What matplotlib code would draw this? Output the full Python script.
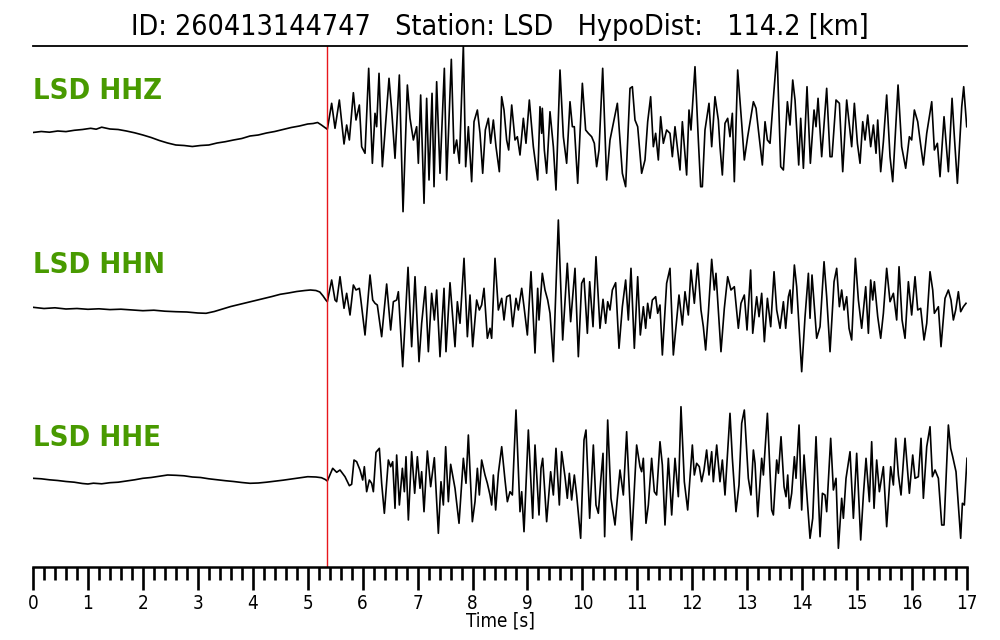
import matplotlib
matplotlib.use("Agg")
import matplotlib.pyplot as plt
import numpy as np
from matplotlib.ticker import MultipleLocator

# ---- data: (time [s], amplitude [arb.]) ----
HHZ = [
(0.00,-2.5),(0.15,-1.5),(0.30,-2.2),(0.45,-1.0),(0.60,-1.6),(0.75,-0.3),(0.90,0.5),(1.05,1.7),
(1.15,0.8),(1.25,2.8),(1.40,1.0),(1.55,0.5),(1.70,-1.0),(1.85,-2.8),(2.00,-5.0),(2.15,-7.5),
(2.30,-10.5),(2.45,-13.0),(2.60,-15.0),(2.75,-15.5),(2.90,-16.5),(3.05,-15.5),(3.20,-15.0),
(3.35,-13.0),(3.50,-11.7),(3.65,-10.0),(3.80,-8.5),(3.95,-6.0),(4.10,-5.0),(4.25,-3.0),(4.40,-1.5),
(4.55,0.5),(4.70,2.5),(4.85,4.0),(5.00,6.0),(5.10,6.5),(5.18,7.5),(5.25,5.0),(5.30,3.0),
(5.357,0.7),(5.436,26.7),(5.497,1.7),(5.576,30.0),(5.661,-14.0),(5.709,5.0),(5.758,-10.0),
(5.831,37.3),(5.879,10.0),(5.940,25.0),(5.982,-16.7),(6.043,-23.3),(6.110,61.7),(6.177,-33.3),
(6.225,16.7),(6.255,3.3),(6.298,56.7),(6.359,-36.7),(6.419,6.7),(6.480,51.7),(6.528,20.0),
(6.589,-28.3),(6.668,55.0),(6.735,-81.7),(6.814,45.0),(6.862,11.7),(6.923,-10.0),(6.983,3.3),
(7.014,-33.3),(7.056,35.0),(7.117,-73.3),(7.165,31.7),(7.208,-50.0),(7.263,36.7),(7.299,-56.7),
(7.347,48.3),(7.408,-43.3),(7.487,61.7),(7.529,-50.0),(7.614,70.7),(7.663,-23.3),(7.711,-10.0),
(7.760,-33.3),(7.833,85.0),(7.875,-36.7),(7.924,3.3),(7.984,-51.7),(8.027,8.3),(8.088,20.0),
(8.136,-3.3),(8.185,-43.3),(8.233,0.0),(8.288,11.7),(8.330,-13.3),(8.379,10.0),(8.427,-16.7),
(8.488,-41.7),(8.530,33.3),(8.573,20.0),(8.621,-10.0),(8.658,-20.0),(8.713,25.0),(8.773,-10.0),
(8.816,-6.7),(8.864,-25.0),(8.925,11.7),(8.973,-13.3),(9.034,30.0),(9.107,-16.7),(9.186,-50.0),
(9.228,23.3),(9.258,-3.3),(9.270,21.7),(9.307,-20.0),(9.349,-43.3),(9.410,18.3),(9.471,-16.7),
(9.519,-60.0),(9.592,60.0),(9.653,-6.7),(9.713,-33.3),(9.774,28.3),(9.817,3.3),(9.853,3.3),
(9.914,-53.3),(9.999,46.7),(10.059,0.0),(10.108,-3.3),(10.168,-6.7),(10.217,-13.3),(10.259,-36.7),
(10.302,-20.0),(10.369,61.7),(10.441,-50.0),(10.502,-10.0),(10.563,6.7),(10.636,26.7),(10.684,-10.0),
(10.727,-43.3),(10.787,-56.7),(10.866,41.7),(10.909,43.3),(10.957,10.0),(11.006,3.3),(11.078,-43.3),
(11.139,-30.0),(11.188,8.3),(11.242,33.3),(11.291,-16.7),(11.333,-3.3),(11.382,-30.0),(11.424,13.3),
(11.473,-13.3),(11.533,0.0),(11.594,-3.3),(11.637,-26.7),(11.685,3.3),(11.734,-20.0),(11.776,-40.0),
(11.819,8.3),(11.897,-45.0),(11.940,20.0),(11.976,0.0),(12.049,63.3),(12.110,-10.0),(12.152,-56.7),
(12.183,-56.7),(12.231,0.0),(12.304,26.7),(12.353,-16.7),(12.413,33.3),(12.474,10.0),(12.504,-16.7),
(12.547,-45.0),(12.595,6.7),(12.644,11.7),(12.686,-6.7),(12.729,16.7),(12.765,-51.7),(12.826,60.0),
(12.899,6.7),(12.947,-30.0),(13.008,-6.7),(13.112,28.3),(13.160,21.7),(13.203,0.0),(13.275,-35.0),
(13.324,8.3),(13.367,-10.0),(13.415,-13.3),(13.464,23.3),(13.542,78.3),(13.609,-36.7),(13.658,-40.0),
(13.731,28.3),(13.779,5.0),(13.828,50.0),(13.870,30.0),(13.937,-35.0),(13.973,11.7),(14.022,-38.3),
(14.088,43.3),(14.149,-33.3),(14.216,20.0),(14.252,3.3),(14.289,31.7),(14.355,-26.7),(14.446,41.7),
(14.507,-26.7),(14.543,-26.7),(14.616,30.0),(14.677,26.7),(14.738,-41.7),(14.810,30.0),(14.859,5.0),
(14.901,-16.7),(14.950,26.7),(15.005,-13.3),(15.053,-33.3),(15.102,8.3),(15.144,-10.0),(15.193,15.0),
(15.247,-16.7),(15.296,5.0),(15.344,-23.3),(15.375,10.0),(15.429,-41.7),(15.478,-11.7),(15.538,35.0),
(15.599,-26.7),(15.648,-51.7),(15.745,45.0),(15.811,-16.7),(15.884,-38.3),(15.951,-6.7),(15.993,-10.0),
(16.042,20.0),(16.103,8.3),(16.145,-10.0),(16.206,-35.0),(16.267,-3.3),(16.358,28.3),(16.406,-20.0),
(16.461,-13.3),(16.509,-46.7),(16.582,13.3),(16.661,-41.7),(16.728,31.7),(16.770,-6.7),(16.825,-53.3),
(16.904,23.3),(16.940,43.3),(16.995,3.3),
]

HHN = [
(0.00,0.7),(0.20,-0.5),(0.40,0.2),(0.60,-1.0),(0.80,-0.5),(1.00,-1.3),(1.20,-0.8),(1.40,-1.6),
(1.60,-1.2),(1.80,-2.0),(2.00,-2.7),(2.20,-2.2),(2.40,-3.2),(2.60,-3.7),(2.80,-4.0),(3.00,-5.0),
(3.15,-5.3),(3.30,-3.5),(3.45,-1.0),(3.60,1.5),(3.75,3.5),(3.90,5.5),(4.05,7.5),(4.20,9.5),
(4.35,11.5),(4.50,13.7),(4.65,15.0),(4.80,16.5),(4.95,17.5),(5.05,18.0),(5.15,17.5),(5.22,16.0),
(5.28,12.0),(5.33,8.0),
(5.357,6.3),(5.436,28.0),(5.497,8.0),(5.527,6.3),(5.588,31.3),(5.661,-0.3),(5.709,14.7),(5.770,-7.0),
(5.831,23.0),(5.879,18.0),(5.940,19.7),(5.964,9.7),(6.043,-27.0),(6.134,33.0),(6.183,8.0),(6.225,4.7),
(6.267,3.0),(6.346,-28.7),(6.437,24.0),(6.510,-22.0),(6.559,6.3),(6.619,8.0),(6.650,16.3),(6.729,-58.7),
(6.826,40.7),(6.892,-38.7),(6.953,31.3),(7.026,-53.7),(7.074,-15.3),(7.141,21.3),(7.196,-43.7),
(7.256,14.7),(7.305,-12.0),(7.347,18.0),(7.408,-48.7),(7.481,19.7),(7.517,-43.7),(7.590,25.3),
(7.681,-38.7),(7.724,6.3),(7.772,-15.3),(7.845,49.7),(7.906,-28.7),(7.954,13.0),(8.003,-38.7),
(8.075,8.0),(8.124,-2.0),(8.166,3.0),(8.209,19.7),(8.270,-30.3),(8.318,-20.3),(8.348,-30.3),
(8.409,49.7),(8.470,-2.0),(8.531,9.7),(8.573,-12.0),(8.622,11.3),(8.682,13.0),(8.731,-18.7),
(8.791,9.7),(8.834,-2.0),(8.895,19.7),(8.937,1.3),(8.998,-27.0),(9.064,36.3),(9.137,-45.0),
(9.186,19.7),(9.210,-12.0),(9.270,34.7),(9.319,18.0),(9.368,8.0),(9.410,-5.3),(9.471,-53.7),
(9.562,88.0),(9.641,-32.0),(9.725,44.7),(9.786,-13.7),(9.865,39.7),(9.926,-48.7),(9.986,24.7),
(10.029,29.7),(10.090,-25.3),(10.132,26.3),(10.193,-18.7),(10.247,51.3),(10.320,-20.3),(10.375,8.7),
(10.423,-15.3),(10.460,6.3),(10.502,-2.0),(10.545,18.0),(10.605,25.3),(10.666,-40.3),(10.727,1.3),
(10.787,28.0),(10.836,-12.0),(10.884,39.7),(10.945,-40.3),(11.006,31.3),(11.054,-27.0),(11.109,1.3),
(11.151,-20.3),(11.188,4.7),(11.230,-10.3),(11.273,8.0),(11.333,11.3),(11.370,-5.3),(11.412,3.0),
(11.455,-47.0),(11.533,24.7),(11.594,39.7),(11.655,-47.0),(11.758,13.0),(11.819,-17.0),(11.867,16.3),
(11.928,-7.0),(11.976,38.0),(12.037,4.7),(12.098,44.7),(12.158,-2.0),(12.201,-18.7),(12.243,-42.0),
(12.292,-5.3),(12.353,48.7),(12.401,18.0),(12.431,34.7),(12.474,-2.0),(12.522,-43.7),(12.583,-0.3),
(12.644,31.3),(12.704,18.0),(12.765,21.3),(12.838,-20.3),(12.886,4.7),(12.947,13.0),(12.996,-22.0),
(13.062,38.0),(13.100,-25.3),(13.172,11.3),(13.215,-8.7),(13.263,14.7),(13.312,-33.7),(13.367,9.7),
(13.427,-18.7),(13.488,36.3),(13.536,-2.0),(13.597,-20.3),(13.658,6.3),(13.700,-20.3),(13.749,11.3),
(13.779,18.0),(13.809,-5.3),(13.858,43.0),(13.900,21.3),(13.991,-63.7),(14.052,-8.7),(14.113,34.7),
(14.143,-10.3),(14.179,33.0),(14.264,-30.3),(14.325,-18.7),(14.398,46.3),(14.446,11.3),(14.507,-43.7),
(14.580,26.3),(14.628,39.7),(14.677,1.3),(14.719,18.0),(14.762,-2.0),(14.810,11.3),(14.853,-20.3),
(14.901,-32.0),(14.968,49.7),(15.023,8.0),(15.083,-20.3),(15.156,21.3),(15.205,-25.3),(15.247,28.0),
(15.284,8.0),(15.314,26.3),(15.375,-8.7),(15.429,-30.3),(15.478,-5.3),(15.538,39.7),(15.599,6.3),
(15.660,14.7),(15.720,-12.0),(15.763,41.3),(15.818,-12.0),(15.872,-30.3),(15.933,26.3),(15.993,-7.0),
(16.054,31.3),(16.103,-2.0),(16.157,-0.3),(16.218,-32.0),(16.267,-15.3),(16.327,36.3),(16.376,18.0),
(16.406,-5.3),(16.479,1.3),(16.527,-38.7),(16.600,9.7),(16.661,18.0),(16.709,8.0),(16.752,-12.0),
(16.794,-2.0),(16.843,16.3),(16.885,-3.7),(16.934,1.3),(16.982,4.7),
]

HHE = [
(0.00,-0.3),(0.15,-0.8),(0.30,-1.8),(0.45,-2.5),(0.60,-3.5),(0.75,-4.2),(0.90,-5.5),(1.00,-6.0),
(1.10,-5.2),(1.25,-5.8),(1.40,-4.7),(1.55,-4.2),(1.70,-3.0),(1.85,-1.8),(2.00,-0.3),(2.15,0.5),
(2.30,1.8),(2.45,3.0),(2.60,2.7),(2.75,2.2),(2.90,1.0),(3.05,0.5),(3.20,-0.8),(3.35,-1.8),
(3.50,-2.7),(3.65,-3.5),(3.80,-4.5),(3.95,-5.3),(4.10,-5.0),(4.25,-4.2),(4.40,-3.2),(4.55,-2.2),
(4.70,-1.0),(4.85,0.2),(5.00,1.3),(5.15,1.0),(5.25,0.3),(5.32,-1.5),
(5.357,-3.0),(5.455,9.7),(5.527,5.7),(5.588,8.0),(5.679,1.3),(5.758,-7.7),(5.800,-6.3),(5.843,18.0),
(5.891,16.3),(5.952,8.0),(6.001,-2.0),(6.031,11.3),(6.073,-13.7),(6.122,-2.0),(6.164,-5.3),
(6.195,-13.7),(6.243,25.7),(6.304,29.7),(6.346,-5.3),(6.395,-35.3),(6.468,18.0),(6.510,11.3),
(6.547,16.3),(6.589,-30.3),(6.619,23.0),(6.668,-27.0),(6.723,9.7),(6.759,-13.7),(6.789,21.3),
(6.832,-42.0),(6.892,26.3),(6.947,-15.3),(6.996,21.3),(7.044,-10.3),(7.074,6.3),(7.117,-33.7),
(7.178,27.0),(7.238,-8.7),(7.305,20.3),(7.378,-55.3),(7.426,-3.7),(7.469,-27.0),(7.511,31.3),
(7.560,-23.7),(7.602,13.7),(7.681,-10.3),(7.754,-45.3),(7.833,19.7),(7.881,-5.3),(7.924,43.0),
(7.997,-43.7),(8.045,-23.7),(8.088,9.7),(8.124,-17.0),(8.166,18.0),(8.227,3.0),(8.270,-5.3),
(8.318,-17.0),(8.348,-27.0),(8.379,3.0),(8.421,-32.0),(8.470,4.7),(8.531,31.3),(8.591,-2.0),
(8.634,-23.7),(8.682,-13.7),(8.725,-17.0),(8.791,68.0),(8.864,-33.7),(8.895,-13.7),(8.937,-53.7),
(9.016,48.0),(9.095,-40.3),(9.137,33.0),(9.210,-37.0),(9.246,9.7),(9.277,19.7),(9.349,-43.7),
(9.422,6.3),(9.471,-17.0),(9.519,29.7),(9.580,-27.0),(9.622,26.3),(9.683,1.3),(9.725,-20.3),
(9.762,4.7),(9.804,-22.0),(9.853,3.0),(9.895,-17.0),(9.968,-60.3),(10.029,38.0),(10.065,48.0),
(10.132,-40.3),(10.199,33.0),(10.247,-27.0),(10.290,-35.3),(10.332,-3.7),(10.375,24.7),(10.405,-58.7),
(10.460,58.0),(10.520,-20.3),(10.593,-47.0),(10.636,-20.3),(10.684,8.0),(10.745,-17.0),(10.805,46.3),
(10.896,-62.0),(10.987,33.0),(11.048,11.3),(11.078,6.3),(11.109,19.7),(11.157,-45.3),(11.200,-27.0),
(11.260,19.7),(11.309,-13.7),(11.351,-17.0),(11.412,36.3),(11.455,13.0),(11.503,-47.0),(11.564,19.7),
(11.625,-37.0),(11.685,19.7),(11.746,-18.7),(11.794,71.3),(11.855,-3.7),(11.916,-32.0),(12.001,33.0),
(12.037,3.0),(12.079,14.7),(12.128,11.3),(12.170,-3.7),(12.213,8.0),(12.261,28.0),(12.304,3.0),
(12.353,26.3),(12.383,-3.7),(12.444,33.0),(12.504,-3.7),(12.547,18.0),(12.595,-17.0),(12.686,64.7),
(12.729,19.7),(12.795,-33.7),(12.850,-7.0),(12.899,54.7),(12.947,68.0),(13.020,-0.3),(13.068,-17.0),
(13.112,28.0),(13.142,14.7),(13.191,-38.7),(13.263,19.7),(13.294,3.0),(13.367,64.7),(13.445,-32.0),
(13.476,-37.0),(13.536,18.0),(13.567,4.7),(13.615,41.3),(13.670,-8.7),(13.706,-18.7),(13.737,3.0),
(13.767,-30.3),(13.809,-15.3),(13.858,21.3),(13.888,-0.3),(13.943,53.0),(13.991,-32.0),(14.034,23.0),
(14.070,-5.3),(14.143,-60.3),(14.192,-40.3),(14.252,41.3),(14.325,-58.7),(14.368,-15.3),(14.416,-17.0),
(14.446,-33.7),(14.519,39.7),(14.568,-12.0),(14.616,-0.3),(14.659,-70.3),(14.719,-20.3),(14.750,-40.3),
(14.798,-0.3),(14.871,26.3),(14.932,-40.3),(14.992,24.7),(15.065,-62.0),(15.114,-17.0),(15.162,19.7),
(15.223,-23.7),(15.265,36.3),(15.308,-30.3),(15.356,18.0),(15.405,-13.7),(15.478,11.3),(15.538,-48.7),
(15.611,11.3),(15.660,-7.0),(15.702,39.7),(15.751,3.0),(15.799,-17.0),(15.872,39.7),(15.951,-15.3),
(16.012,23.0),(16.054,-0.3),(16.115,1.3),(16.163,39.7),(16.206,-20.3),(16.267,31.3),(16.327,51.3),
(16.370,1.3),(16.418,8.0),(16.479,-0.3),(16.540,-47.0),(16.582,-47.0),(16.661,53.0),(16.703,29.7),
(16.740,21.3),(16.800,6.3),(16.843,-27.0),(16.885,-60.3),(16.916,-25.3),(16.952,-27.0),(17.000,19.7),
]

channels = ["LSD HHZ", "LSD HHN", "LSD HHE"]
traces = [HHZ, HHN, HHE]
offsets = [437, 259, 89]          # vertical placement of each trace
label_y = [476, 302, 129]
pick_time = 5.35                  # red marker
title = "ID: 260413144747   Station: LSD   HypoDist:   114.2 [km]"

fig = plt.figure(figsize=(10, 6.4), dpi=100)
ax = fig.add_axes([0.033, 73/640, 0.934, 521/640])

for tr, off, lab, ly in zip(traces, offsets, channels, label_y):
    t, a = zip(*tr)
    ax.plot(t, np.array(a) + off, color="black", lw=1.2, solid_joinstyle="round")
    ax.text(0.0, ly, lab, color="#489a00", fontsize=21, fontweight="bold",
            fontstretch="condensed", ha="left", va="center", family="DejaVu Sans")

ax.axvline(pick_time, color="#e8161b", lw=1.0)

ax.set_xlim(0, 17)
ax.set_ylim(0, 521)
ax.set_yticks([])
for s in ("left", "right"):
    ax.spines[s].set_visible(False)
ax.spines["top"].set_linewidth(1.3)
ax.spines["bottom"].set_linewidth(1.8)

ax.xaxis.set_major_locator(MultipleLocator(1))
ax.xaxis.set_minor_locator(MultipleLocator(0.2))
ax.tick_params(axis="x", which="major", direction="out", length=16.5, width=1.9, pad=3)
ax.tick_params(axis="x", which="minor", direction="out", length=9.5, width=1.9)
for lbl in ax.get_xticklabels():
    lbl.set_fontsize(13.5)
    lbl.set_fontstretch("condensed")
ax.set_xlabel("Time [s]", fontsize=13.5, fontstretch="condensed", labelpad=-1)

fig.text(0.5, 1 - 27/640, title, ha="center", va="center", fontsize=20.5,
         fontstretch="condensed")

fig.savefig("out.png", dpi=100)
